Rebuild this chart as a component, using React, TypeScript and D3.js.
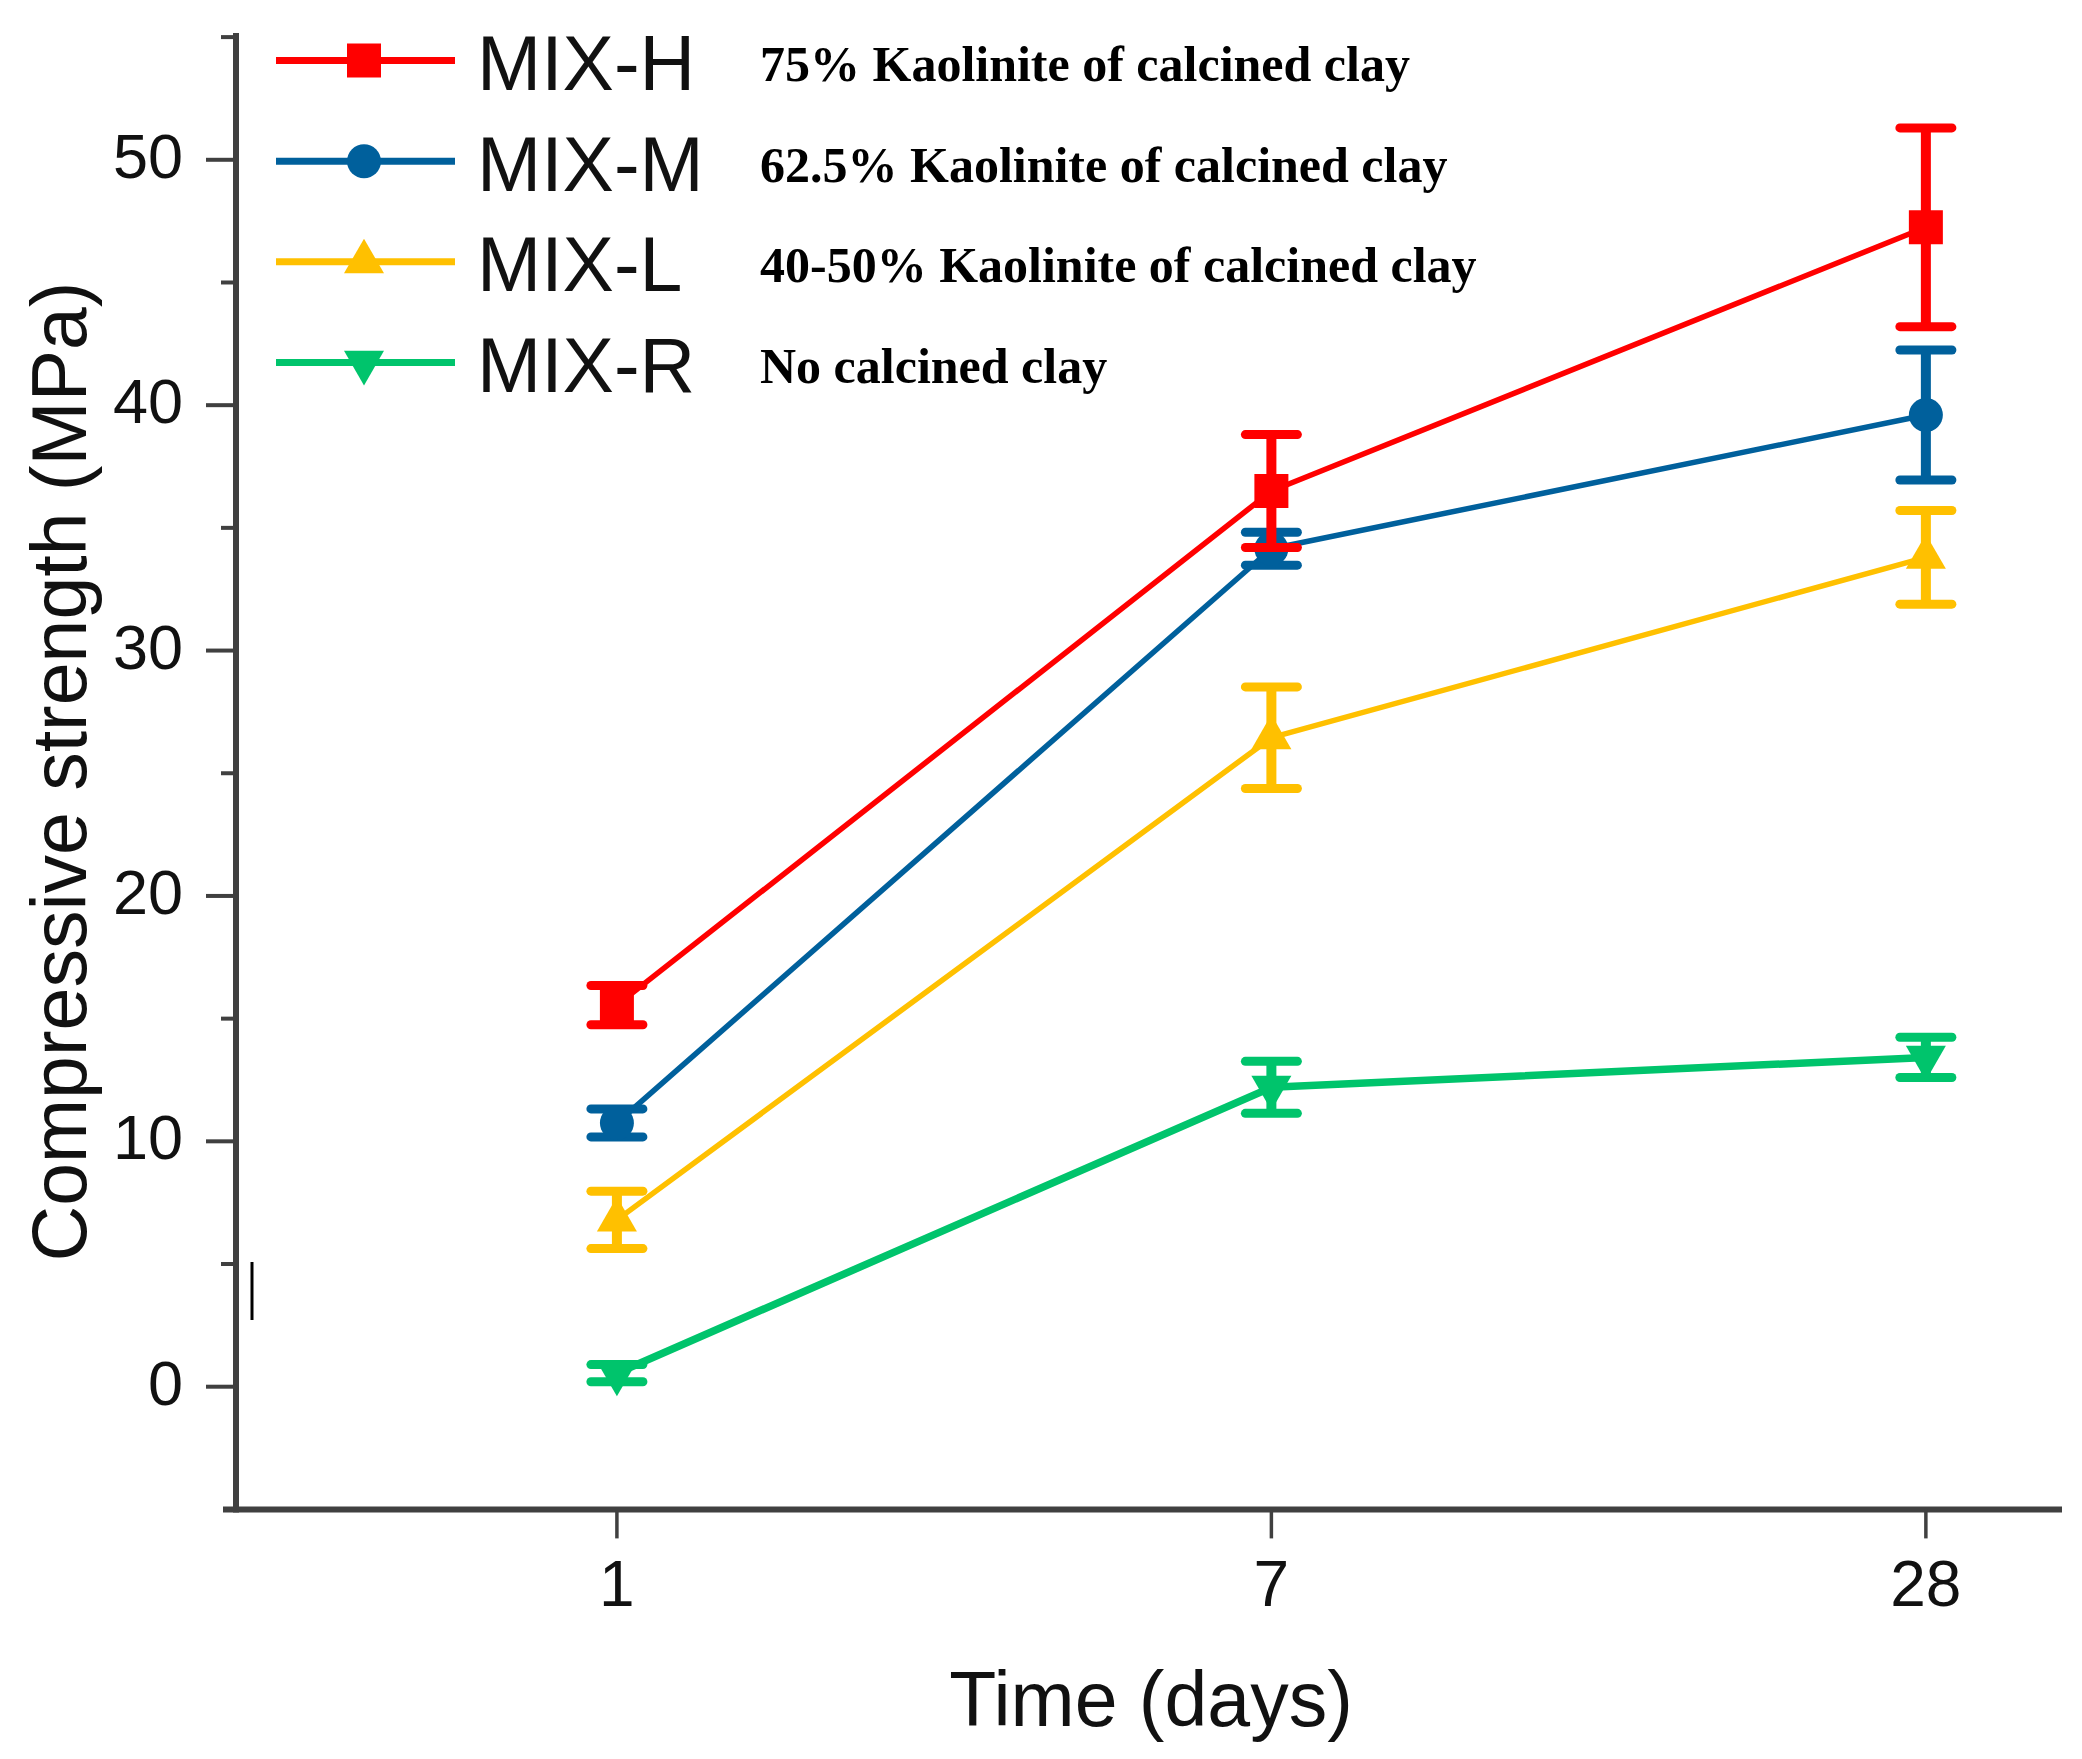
import React from "react";
import * as d3 from "d3";

// ---- data ----
const days = ["1", "7", "28"];
const seriesNames = ["MIX-H", "MIX-M", "MIX-L", "MIX-R"];
const descriptions = [
  "75% Kaolinite of calcined clay",
  "62.5% Kaolinite of calcined clay",
  "40-50% Kaolinite of calcined clay",
  "No calcined clay",
];
const mixH = [15.55, 36.5, 47.25];
const errH = [0.8, 2.3, 4.05];
const mixM = [10.75, 34.15, 39.6];
const errM = [0.57, 0.67, 2.65];
const mixL = [6.8, 26.45, 33.8];
const errL = [1.17, 2.07, 1.91];
const mixR = [0.55, 12.2, 13.42];
const errR = [0.35, 1.06, 0.82];
const yMajorTicks = [0, 10, 20, 30, 40, 50];
const yMinorTicks = [5, 15, 25, 35, 45, 55];

const colors = ["#ff0000", "#00609c", "#ffc000", "#00c46c"];
const symbols = ["square", "circle", "triangle", "triangleDown"];
const values = [mixH, mixM, mixL, mixR];
const errors = [errH, errM, errL, errR];

const W = 2082;
const H = 1759;
const axisColor = "#404040";
const sans = "'Liberation Sans', Arial, sans-serif";
const serif = "'Liberation Serif', 'Times New Roman', serif";

const x = d3.scaleLinear().domain([-0.582, 2.208]).range([236, 2062]);
const y = d3.scaleLinear().domain([-5, 55]).range([1509.4, 37.1]);

function symbolPath(kind: string): string {
  if (kind === "square") return d3.symbol(d3.symbolSquare, 34 * 34)() as string;
  if (kind === "circle") return d3.symbol(d3.symbolCircle, Math.PI * 17 * 17)() as string;
  return d3.symbol(d3.symbolTriangle, (Math.sqrt(3) / 4) * 40 * 40)() as string;
}

function Marker({ kind, cx, cy, color }: { kind: string; cx: number; cy: number; color: string }) {
  const rot = kind === "triangleDown" ? 180 : 0;
  return (
    <path
      d={symbolPath(kind)}
      transform={`translate(${cx},${cy}) rotate(${rot})`}
      fill={color}
    />
  );
}

export default function App() {
  const line = d3
    .line<number>()
    .x((_, i) => x(i))
    .y((v) => y(v));
  const order = [3, 2, 1, 0];
  const capHalf = 26;
  const legendY0 = 60.6;
  const legendStep = 100.6;

  return (
    <svg
      width={W}
      height={H}
      viewBox={`0 0 ${W} ${H}`}
      style={{ position: "absolute", left: 0, top: 0, display: "block", background: "#fff" }}
    >
      <rect x={0} y={0} width={W} height={H} fill="#fff" />

      {/* y axis */}
      <line x1={236} x2={236} y1={y(55) - 4} y2={y(-5) + 3} stroke={axisColor} strokeWidth={6} />
      {yMajorTicks.map((t) => (
        <g key={"ym" + t}>
          <line x1={206} x2={236} y1={y(t)} y2={y(t)} stroke={axisColor} strokeWidth={4} />
          <text
            x={183}
            y={y(t) + 18}
            textAnchor="end"
            fontFamily={sans}
            fontSize={63}
            fill="#111"
          >
            {t}
          </text>
        </g>
      ))}
      {yMinorTicks.map((t) => (
        <line key={"yn" + t} x1={221} x2={236} y1={y(t)} y2={y(t)} stroke={axisColor} strokeWidth={4} />
      ))}

      {/* x axis */}
      <line x1={223} x2={2062} y1={y(-5)} y2={y(-5)} stroke={axisColor} strokeWidth={6} />
      {days.map((d, i) => (
        <g key={"xt" + d}>
          <line x1={x(i)} x2={x(i)} y1={y(-5)} y2={y(-5) + 29} stroke={axisColor} strokeWidth={3.5} />
          <text x={x(i)} y={1606} textAnchor="middle" fontFamily={sans} fontSize={64} fill="#111">
            {d}
          </text>
        </g>
      ))}

      {/* stray mark */}
      <line x1={252} x2={252} y1={1262} y2={1320} stroke="#000" strokeWidth={3} />

      {/* axis titles */}
      <text x={1151} y={1726} textAnchor="middle" fontFamily={sans} fontSize={77} fill="#111">
        Time (days)
      </text>
      <text
        transform="translate(86,771.5) rotate(-90)"
        textAnchor="middle"
        fontFamily={sans}
        fontSize={77}
        fill="#111"
      >
        Compressive strength (MPa)
      </text>

      {/* series */}
      {order.map((s) => (
        <g key={"s" + s}>
          <path
            d={line(values[s]) as string}
            fill="none"
            stroke={colors[s]}
            strokeWidth={s === 3 ? 7.5 : 5.5}
            strokeLinejoin="round"
          />
          {values[s].map((v, i) => {
            const e = errors[s][i];
            return (
              <g key={"e" + i} stroke={colors[s]}>
                <line x1={x(i)} x2={x(i)} y1={y(v + e)} y2={y(v - e)} strokeWidth={10} />
                <line x1={x(i) - capHalf} x2={x(i) + capHalf} y1={y(v + e)} y2={y(v + e)} strokeWidth={9} strokeLinecap="round" />
                <line x1={x(i) - capHalf} x2={x(i) + capHalf} y1={y(v - e)} y2={y(v - e)} strokeWidth={9} strokeLinecap="round" />
              </g>
            );
          })}
          {values[s].map((v, i) => (
            <Marker key={"m" + i} kind={symbols[s]} cx={x(i)} cy={y(v)} color={colors[s]} />
          ))}
        </g>
      ))}

      {/* legend */}
      {seriesNames.map((name, i) => {
        const ly = legendY0 + i * legendStep;
        return (
          <g key={"lg" + name}>
            <line x1={276} x2={455} y1={ly} y2={ly} stroke={colors[i]} strokeWidth={7} />
            <Marker kind={symbols[i]} cx={364} cy={ly} color={colors[i]} />
            <text x={477} y={ly + 29.5} fontFamily={sans} fontSize={77} fill="#111">
              {name}
            </text>
            <text x={760} y={ly + 20.5} fontFamily={serif} fontWeight="bold" fontSize={50} fill="#000">
              {descriptions[i]}
            </text>
          </g>
        );
      })}
    </svg>
  );
}
